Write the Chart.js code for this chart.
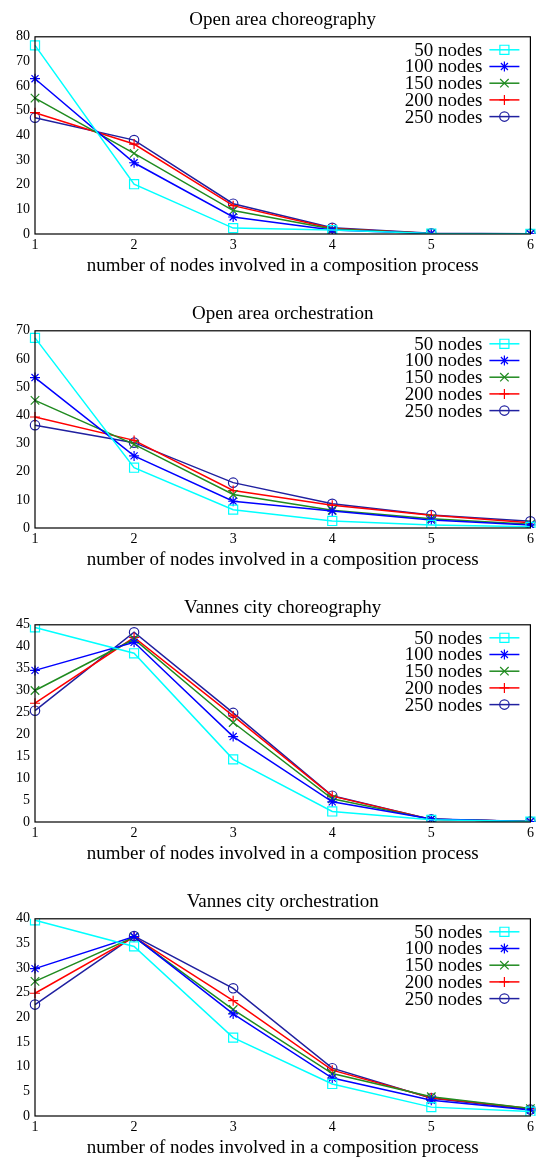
<!DOCTYPE html>
<html>
<head>
<meta charset="utf-8">
<script src="https://cdn.jsdelivr.net/npm/chart.js@4/dist/chart.umd.min.js"></script>
<style>
  html, body { margin: 0; padding: 0; background: #fff; overflow: hidden; }
  .wrap { position: absolute; left: 0; width: 538px; height: 277px; }
</style>
</head>
<body>
<div class="wrap" style="top:0px"><canvas id="c1" width="538" height="277"></canvas></div>
<div class="wrap" style="top:294px"><canvas id="c2" width="538" height="277"></canvas></div>
<div class="wrap" style="top:588px"><canvas id="c3" width="538" height="277"></canvas></div>
<div class="wrap" style="top:882px"><canvas id="c4" width="538" height="277"></canvas></div>
<script>
const xLabels = ['1', '2', '3', '4', '5', '6'];
const seriesNames = ['50 nodes', '100 nodes', '150 nodes', '200 nodes', '250 nodes'];

// Open area choreography
const openChoreo50 = [76.5, 20.2, 2.4, 1.6, 0.2, 0.1];
const openChoreo100 = [63, 28.9, 6.9, 1.6, 0.2, 0.1];
const openChoreo150 = [55.1, 32.7, 9.5, 2.0, 0.2, 0.1];
const openChoreo200 = [49.2, 36.5, 11.5, 2.2, 0.2, 0.1];
const openChoreo250 = [47.2, 38.1, 12.3, 2.5, 0.3, 0.1];

// Open area orchestration
const openOrch50 = [67.5, 21.4, 6.5, 2.5, 1.1, 0.4];
const openOrch100 = [53.4, 25.6, 9.5, 6.0, 2.8, 1.1];
const openOrch150 = [45.3, 29.7, 11.9, 6.3, 3.3, 1.3];
const openOrch200 = [39.4, 31.1, 13.3, 8.1, 4.5, 1.9];
const openOrch250 = [36.5, 30.3, 16.1, 8.6, 4.6, 2.4];

// Vannes city choreography
const vannesChoreo50 = [44.4, 38.5, 14.3, 2.4, 0.5, 0.1];
const vannesChoreo100 = [34.6, 41.0, 19.5, 4.6, 0.7, 0.1];
const vannesChoreo150 = [30.0, 41.7, 22.7, 5.3, 0.6, 0.1];
const vannesChoreo200 = [27.1, 42.1, 24.2, 5.9, 0.6, 0.1];
const vannesChoreo250 = [25.4, 43.3, 24.9, 6.0, 0.6, 0.1];

// Vannes city orchestration
const vannesOrch50 = [39.7, 34.4, 15.9, 6.5, 1.8, 0.9];
const vannesOrch100 = [29.9, 36.4, 20.7, 7.7, 3.2, 1.2];
const vannesOrch150 = [27.3, 36.3, 21.6, 8.6, 3.9, 1.5];
const vannesOrch200 = [24.9, 36.3, 23.4, 9.3, 3.7, 1.5];
const vannesOrch250 = [22.6, 36.5, 25.9, 9.7, 3.6, 1.3];

const colors = ['#00ffff', '#0000ff', '#208b20', '#ff0000', '#2020a0'];
const markers = ['rect', 'star', 'crossRot', 'cross', 'circle'];
const markerSizes = [6.4, 5, 6, 5, 4.7];

const serif = "'Liberation Serif', 'DejaVu Serif', serif";

// frame around the plot + gnuplot style key inside top right
const framePlugin = {
    id: 'frame',
    afterDatasetsDraw(chart) {
        const ctx = chart.ctx;
        const a = chart.chartArea;
        ctx.save();
        ctx.strokeStyle = '#000';
        ctx.lineWidth = 1.2;
        ctx.strokeRect(a.left, a.top, a.right - a.left, a.bottom - a.top);

        ctx.font = '19px ' + serif;
        ctx.textAlign = 'right';
        ctx.textBaseline = 'middle';
        chart.data.datasets.forEach((ds, i) => {
            const y = a.top + 13 + i * 16.7;
            ctx.fillStyle = '#000';
            ctx.fillText(ds.label, a.right - 48, y + 1);
            ctx.strokeStyle = ds.borderColor;
            ctx.lineWidth = 1.5;
            ctx.beginPath();
            ctx.moveTo(a.right - 41, y);
            ctx.lineTo(a.right - 11, y);
            ctx.stroke();
            ctx.fillStyle = 'rgba(0,0,0,0)';
            ctx.lineWidth = 1.2;
            Chart.helpers.drawPoint(ctx, {
                pointStyle: ds.pointStyle,
                radius: ds.pointRadius,
                rotation: 0,
                borderWidth: 1.2
            }, a.right - 26, y);
        });
        ctx.restore();
    }
};

function makeChart(id, title, yMax, yStep, series) {
    new Chart(document.getElementById(id), {
        type: 'line',
        data: {
            labels: xLabels,
            datasets: series.map((values, i) => ({
                label: seriesNames[i],
                data: values,
                borderColor: colors[i],
                backgroundColor: 'transparent',
                pointBackgroundColor: 'transparent',
                pointBorderColor: colors[i],
                pointStyle: markers[i],
                pointRadius: markerSizes[i],
                pointBorderWidth: 1.2,
                borderWidth: 1.5,
                tension: 0,
                fill: false
            }))
        },
        options: {
            responsive: false,
            animation: false,
            events: [],
            layout: { padding: { left: 0, right: 7, top: 0, bottom: 0 } },
            plugins: {
                legend: { display: false },
                tooltip: { enabled: false },
                title: {
                    display: true,
                    text: title,
                    fullSize: false,
                    color: '#000',
                    font: { family: serif, size: 19, weight: 'normal' },
                    padding: { top: 9, bottom: 5 }
                }
            },
            scales: {
                x: {
                    grid: { display: false, drawTicks: false },
                    border: { display: false },
                    ticks: { color: '#000', padding: 3, font: { family: serif, size: 14 }, maxRotation: 0 },
                    title: {
                        display: true,
                        text: 'number of nodes involved in a composition process',
                        color: '#000',
                        font: { family: serif, size: 19 },
                        padding: { top: 0, bottom: 0 }
                    },
                    afterFit(scale) { scale.height = 43; }
                },
                y: {
                    min: 0,
                    max: yMax,
                    grid: { display: false, drawTicks: false },
                    border: { display: false },
                    ticks: { stepSize: yStep, color: '#000', padding: 5, font: { family: serif, size: 14 } },
                    afterFit(scale) { scale.width = 35; }
                }
            }
        },
        plugins: [framePlugin]
    });
}

makeChart('c1', 'Open area choreography', 80, 10,
    [openChoreo50, openChoreo100, openChoreo150, openChoreo200, openChoreo250]);
makeChart('c2', 'Open area orchestration', 70, 10,
    [openOrch50, openOrch100, openOrch150, openOrch200, openOrch250]);
makeChart('c3', 'Vannes city choreography', 45, 5,
    [vannesChoreo50, vannesChoreo100, vannesChoreo150, vannesChoreo200, vannesChoreo250]);
makeChart('c4', 'Vannes city orchestration', 40, 5,
    [vannesOrch50, vannesOrch100, vannesOrch150, vannesOrch200, vannesOrch250]);
</script>
</body>
</html>
